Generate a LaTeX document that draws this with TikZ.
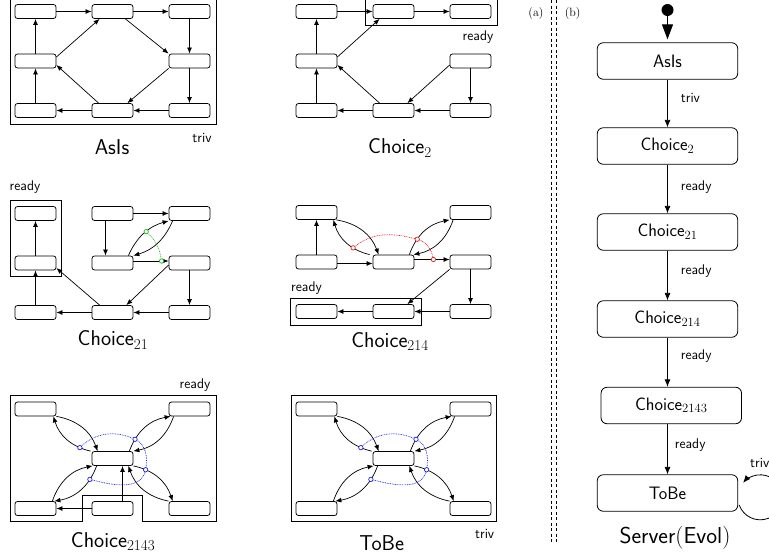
\documentclass[tikz,border=0pt]{standalone}
\usepackage{fontspec}
\usetikzlibrary{arrows.meta,calc}
\definecolor{mygreen}{RGB}{30,185,30}
\definecolor{myred}{RGB}{230,30,30}
\definecolor{myblue}{RGB}{30,30,230}
\tikzset{
  sb/.style={draw, rounded corners=2.5pt, minimum width=41pt, minimum height=14pt, inner sep=0pt, line width=0.75pt},
  ed/.style={-{Latex[length=6pt,width=4.8pt]}, line width=0.7pt},
  frm/.style={line width=0.8pt},
  circ/.style={circle, draw, fill=white, inner sep=0pt, minimum size=4.4pt, line width=0.7pt},
  dotl/.style={line width=0.7pt, dash pattern=on 0.8pt off 0.9pt},
  big/.style={font=\sffamily\fontsize{21.5}{24}\selectfont, inner sep=0pt},
  sm/.style={font=\sffamily\fontsize{14}{16}\selectfont, inner sep=0pt},
  rb/.style={draw, rounded corners=6pt, minimum width=140.5pt, minimum height=36.5pt, inner sep=0pt, line width=0.8pt, font=\sffamily\fontsize{18}{20}\selectfont},
  rarr/.style={-{Latex[length=7.5pt,width=6pt]}, line width=0.8pt},
  sepline/.style={line width=0.7pt, dash pattern=on 3pt off 2.5pt},
}
\begin{document}
\begin{tikzpicture}[x=1pt,y=-1pt]
\useasboundingbox (0,0) rectangle (769,558);

% ---------------- AsIs ----------------
\begin{scope}[shift={(35.5,11.5)}]
\node[sb] (a11) at (0,0) {};
\node[sb] (a12) at (77,0) {};
\node[sb] (a13) at (154,0) {};
\node[sb] (a21) at (0,49.5) {};
\node[sb] (a23) at (154,49.5) {};
\node[sb] (a31) at (0,99) {};
\node[sb] (a32) at (77,99) {};
\node[sb] (a33) at (154,99) {};
\end{scope}
\draw[ed] (a11) -- (a12);
\draw[ed] (a12) -- (a13);
\draw[ed] (a13) -- (a23);
\draw[ed] (a23) -- (a33);
\draw[ed] (a33) -- (a32);
\draw[ed] (a32) -- (a31);
\draw[ed] (a31) -- (a21);
\draw[ed] (a21) -- (a11);
\draw[ed] ($(a12.south east)+(-8,0)$) -- (a23.north west);
\draw[ed] (a23.south west) -- ($(a32.north east)+(-6,0)$);
\draw[ed] ($(a32.north west)+(7,0)$) -- ($(a21.east)+(0,4)$);
\draw[ed] ($(a21.east)+(0,-4)$) -- ($(a12.south west)+(8,0)$);
\draw[frm] (10,-3) rectangle (216,124);
\node[sm] (atriv) at (202,138) {triv};
\node[big] (alab) at (112,147) {AsIs};

% ---------------- Choice2 ----------------
\begin{scope}[shift={(316.5,11.5)}]
\node[sb] (b11) at (0,0) {};
\node[sb] (b12) at (77,0) {};
\node[sb] (b13) at (154,0) {};
\node[sb] (b21) at (0,49.5) {};
\node[sb] (b23) at (154,49.5) {};
\node[sb] (b31) at (0,99) {};
\node[sb] (b32) at (77,99) {};
\node[sb] (b33) at (154,99) {};
\end{scope}
\draw[ed] (b11) -- (b12);
\draw[ed] (b12) -- (b13);
\draw[ed] (b21) -- (b11);
\draw[ed] (b31) -- (b21);
\draw[ed] (b32) -- (b31);
\draw[ed] (b33) -- (b32);
\draw[ed] (b23) -- (b33);
\draw[ed] ($(b21.east)+(0,-4)$) -- ($(b12.south west)+(7,0)$);
\draw[ed] ($(b32.north west)+(7,0)$) -- ($(b21.east)+(0,4)$);
\draw[ed] ($(b23.west)+(0,4)$) -- ($(b32.north east)+(-7,0)$);
\draw[frm] (365,-3) rectangle (497,25);
\node[sm] (bready) at (478,37) {ready};
\node[big] (blab) at (400,148) {Choice\textsubscript{\rmfamily 2}};

% ---------------- Choice21 ----------------
\begin{scope}[shift={(35.5,213.5)}]
\node[sb] (c11) at (0,0) {};
\node[sb] (c12) at (77,0) {};
\node[sb] (c13) at (154,0) {};
\node[sb] (c21) at (0,49.5) {};
\node[sb] (c22) at (77,49.5) {};
\node[sb] (c23) at (154,49.5) {};
\node[sb] (c31) at (0,99) {};
\node[sb] (c32) at (77,99) {};
\node[sb] (c33) at (154,99) {};
\end{scope}
\draw[ed] (c21) -- (c11);
\draw[ed] (c31) -- (c21);
\draw[ed] (c32) -- (c31);
\draw[ed] (c33) -- (c32);
\draw[ed] (c23) -- (c33);
\draw[ed] (c12) -- (c13);
\draw[ed] ($(c32.north west)+(8,0)$) -- ($(c21.east)+(0,5)$);
\draw[ed] ($(c23.west)+(0,2)$) -- ($(c32.north east)+(-7,0)$);
\draw[ed] ($(c12.south)+(-7,0)$) -- ($(c22.north)+(-7,0)$);
\draw[ed] ($(c22.east)+(0,-2)$) -- coordinate[pos=0.8] (cg2) ($(c23.west)+(0,-2)$);
\draw[ed] ($(c22.north east)+(-5,0)$) to[bend left=25] coordinate[pos=0.55] (cg1) (c13.south west);
\draw[ed] ($(c13.south west)+(4,0)$) to[bend left=25] (c22.north east);
\draw[dotl, mygreen] (cg1) to[bend left=20] (cg2);
\node[circ, draw=mygreen] (cg1o) at (cg1) {};
\node[circ, draw=mygreen] (cg2o) at (cg2) {};
\draw[frm] (10,200.7) rectangle (61,276.7);
\node[sm, anchor=west] (cready) at (9.5,186.7) {ready};
\node[big] (clab) at (113,340) {Choice\textsubscript{\rmfamily 21}};

% ---------------- Choice214 ----------------
\begin{scope}[shift={(316.5,212.5)}]
\node[sb] (d11) at (0,0) {};
\node[sb] (d13) at (154,0) {};
\node[sb] (d21) at (0,49.5) {};
\node[sb] (d22) at (77,49.5) {};
\node[sb] (d23) at (154,49.5) {};
\node[sb] (d31) at (0,99) {};
\node[sb] (d32) at (77,99) {};
\node[sb] (d33) at (154,99) {};
\end{scope}
\draw[ed] (d21) -- (d11);
\draw[ed] ($(d21.east)+(0,1.5)$) -- ($(d22.west)+(0,1.5)$);
\draw[ed] ($(d22.east)+(0,-2.5)$) -- coordinate[pos=0.54] (dr3) ($(d23.west)+(0,-2.5)$);
\draw[ed] (d23.south west) -- ($(d32.north east)+(-7,0)$);
\draw[ed] (d23) -- (d33);
\draw[ed] (d33) -- (d32);
\draw[ed] (d32) -- (d31);
\draw[ed] ($(d22.north west)+(-3,0)$) to[bend left=30] coordinate[pos=0.33] (dr1) ($(d11.south east)+(-4,0)$);
\draw[ed] ($(d11.south east)+(-1,0)$) to[bend left=30] ($(d22.north west)+(6,0)$);
\draw[ed] ($(d22.north east)+(-5,0)$) to[bend left=30] coordinate[pos=0.3] (dr2) (d13.south west);
\draw[ed] ($(d13.south west)+(3.5,0)$) to[bend left=30] ($(d22.north east)+(-1,0)$);
\draw[dotl, myred] (dr1) to[out=40,in=165] (dr2) to[out=-15,in=100] (dr3);
\node[circ, draw=myred] (dr1o) at (dr1) {};
\node[circ, draw=myred] (dr2o) at (dr2) {};
\node[circ, draw=myred] (dr3o) at (dr3) {};
\draw[frm] (290,298) rectangle (421,325);
\node[sm, anchor=west] (dready) at (291,288) {ready};
\node[big] (dlab) at (390,341.7) {Choice\textsubscript{\rmfamily 214}};

% ---------------- Choice2143 ----------------
\begin{scope}[shift={(35.5,409)}]
\node[sb] (e11) at (0,0) {};
\node[sb] (e13) at (154,0) {};
\node[sb] (e22) at (77,49.5) {};
\node[sb] (e31) at (0,99.5) {};
\node[sb] (e32) at (77,99.5) {};
\node[sb] (e33) at (154,99.5) {};
\end{scope}
\draw[ed] (e32) -- (e31);
\draw[ed] ($(e32.north)+(10,0)$) -- ($(e22.south)+(10,0)$);
\draw[ed] ($(e22.north west)+(-1,0)$) to[bend left=30] coordinate[pos=0.2] (eb1) ($(e11.south east)+(-3,0)$);
\draw[ed] (e11.south east) to[bend left=30] ($(e22.north west)+(6,0)$);
\draw[ed] ($(e22.north east)+(-4,0)$) to[bend left=30] coordinate[pos=0.22] (eb2) ($(e13.south west)+(2,0)$);
\draw[ed] ($(e13.south west)+(5,0)$) to[bend left=30] (e22.north east);
\draw[ed] (e22.south east) to[bend left=30] coordinate[pos=0.22] (eb3) ($(e33.north west)+(4,0)$);
\draw[ed] (e33.north west) to[bend left=30] ($(e22.south east)+(-5,0)$);
\draw[ed] ($(e22.south west)+(5,0)$) to[bend left=30] coordinate[pos=0.25] (eb4) ($(e31.north east)+(-2,0)$);
\draw[ed] ($(e31.north east)+(-4,0)$) to[bend left=30] ($(e22.south west)+(1,0)$);
\draw[dotl, myblue] (eb1) to[out=45,in=155] (eb2) to[out=-25,in=80] (eb3) to[out=-100,in=-15] (eb4);
\node[circ, draw=myblue] (eb1o) at (eb1) {};
\node[circ, draw=myblue] (eb2o) at (eb2) {};
\node[circ, draw=myblue] (eb3o) at (eb3) {};
\node[circ, draw=myblue] (eb4o) at (eb4) {};
\draw[frm] (10,395.3) -- (216,395.3) -- (216,521.7) -- (142.7,521.7) -- (142.7,495) -- (82.3,495) -- (82.3,521.7) -- (10,521.7) -- cycle;
\node[sm] (eready) at (195,385) {ready};
\node[big] (elab) at (113,541.7) {Choice\textsubscript{\rmfamily 2143}};

% ---------------- ToBe ----------------
\begin{scope}[shift={(316.5,409)}]
\node[sb] (f11) at (0,0) {};
\node[sb] (f13) at (154,0) {};
\node[sb] (f22) at (77,49.5) {};
\node[sb] (f31) at (0,99.5) {};
\node[sb] (f33) at (154,99.5) {};
\end{scope}
\draw[ed] ($(f22.north west)+(-1,0)$) to[bend left=30] coordinate[pos=0.2] (fb1) ($(f11.south east)+(-3,0)$);
\draw[ed] (f11.south east) to[bend left=30] ($(f22.north west)+(6,0)$);
\draw[ed] ($(f22.north east)+(-4,0)$) to[bend left=30] coordinate[pos=0.22] (fb2) ($(f13.south west)+(2,0)$);
\draw[ed] ($(f13.south west)+(5,0)$) to[bend left=30] (f22.north east);
\draw[ed] (f22.south east) to[bend left=30] coordinate[pos=0.22] (fb3) ($(f33.north west)+(4,0)$);
\draw[ed] (f33.north west) to[bend left=30] ($(f22.south east)+(-5,0)$);
\draw[ed] ($(f22.south west)+(5,0)$) to[bend left=30] coordinate[pos=0.25] (fb4) ($(f31.north east)+(-2,0)$);
\draw[ed] ($(f31.north east)+(-4,0)$) to[bend left=30] ($(f22.south west)+(1,0)$);
\draw[dotl, myblue] (fb1) to[out=45,in=155] (fb2) to[out=-25,in=80] (fb3) to[out=-100,in=-15] (fb4);
\node[circ, draw=myblue] (fb1o) at (fb1) {};
\node[circ, draw=myblue] (fb2o) at (fb2) {};
\node[circ, draw=myblue] (fb3o) at (fb3) {};
\node[circ, draw=myblue] (fb4o) at (fb4) {};
\draw[frm] (291,395.7) rectangle (496.7,521);
\node[sm] (ftriv) at (484.7,534) {triv};
\node[big] (flab) at (381.7,542.7) {ToBe};

% ---------------- separator ----------------
\draw[sepline] (551.7,0) -- (551.7,541.7);
\draw[sepline] (556.7,0) -- (556.7,541.7);
\node[font=\rmfamily\fontsize{12}{14}\selectfont, inner sep=0pt] (pa) at (536,14) {(a)};
\node[font=\rmfamily\fontsize{12}{14}\selectfont, inner sep=0pt] (pb) at (572.7,14) {(b)};

% ---------------- Server(Evol) ----------------
\node[rb] (rAsIs) at (667.5,61) {AsIs};
\node[rb] (rC2) at (667.5,146) {Choice\textsubscript{\rmfamily 2}};
\node[rb] (rC21) at (667.5,232) {Choice\textsubscript{\rmfamily 21}};
\node[rb] (rC214) at (667.5,319) {Choice\textsubscript{\rmfamily 214}};
\node[rb] (rC2143) at (671.3,405.5) {Choice\textsubscript{\rmfamily 2143}};
\node[rb] (rToBe) at (667.5,493) {ToBe};
\node[circle, fill, inner sep=0pt, minimum size=12pt] (start) at (667.5,10) {};
\draw[-{Triangle[length=15pt,width=11pt]}, line width=1pt, shorten >=3pt] (start) -- (rAsIs);
\draw[rarr] (rAsIs) -- node[sm, pos=0.376, right=13pt] (l1) {triv} (rC2);
\draw[rarr] (rC2) -- node[sm, pos=0.47, right=13pt] (l2) {ready} (rC21);
\draw[rarr] (rC21) -- node[sm, pos=0.41, right=13pt] (l3) {ready} (rC214);
\draw[rarr] (rC214.south) -- node[sm, pos=0.37, right=13pt] (l4) {ready} (rC214.south |- rC2143.north);
\draw[rarr] (rToBe.north |- rC2143.south) -- node[sm, pos=0.415, right=7pt] (l5) {ready} (rToBe.north);
\draw[rarr] ($(rToBe.east)+(1,12)$) arc[start angle=-160, end angle=140, radius=22.5pt];
\node[sm, anchor=west] (l6) at (750,463) {triv};
\node[font=\sffamily\fontsize{23}{26}\selectfont, inner sep=0pt] (srv) at (675,537.3) {Server{\rmfamily(}Evol{\rmfamily)}};
\end{tikzpicture}
\end{document}
